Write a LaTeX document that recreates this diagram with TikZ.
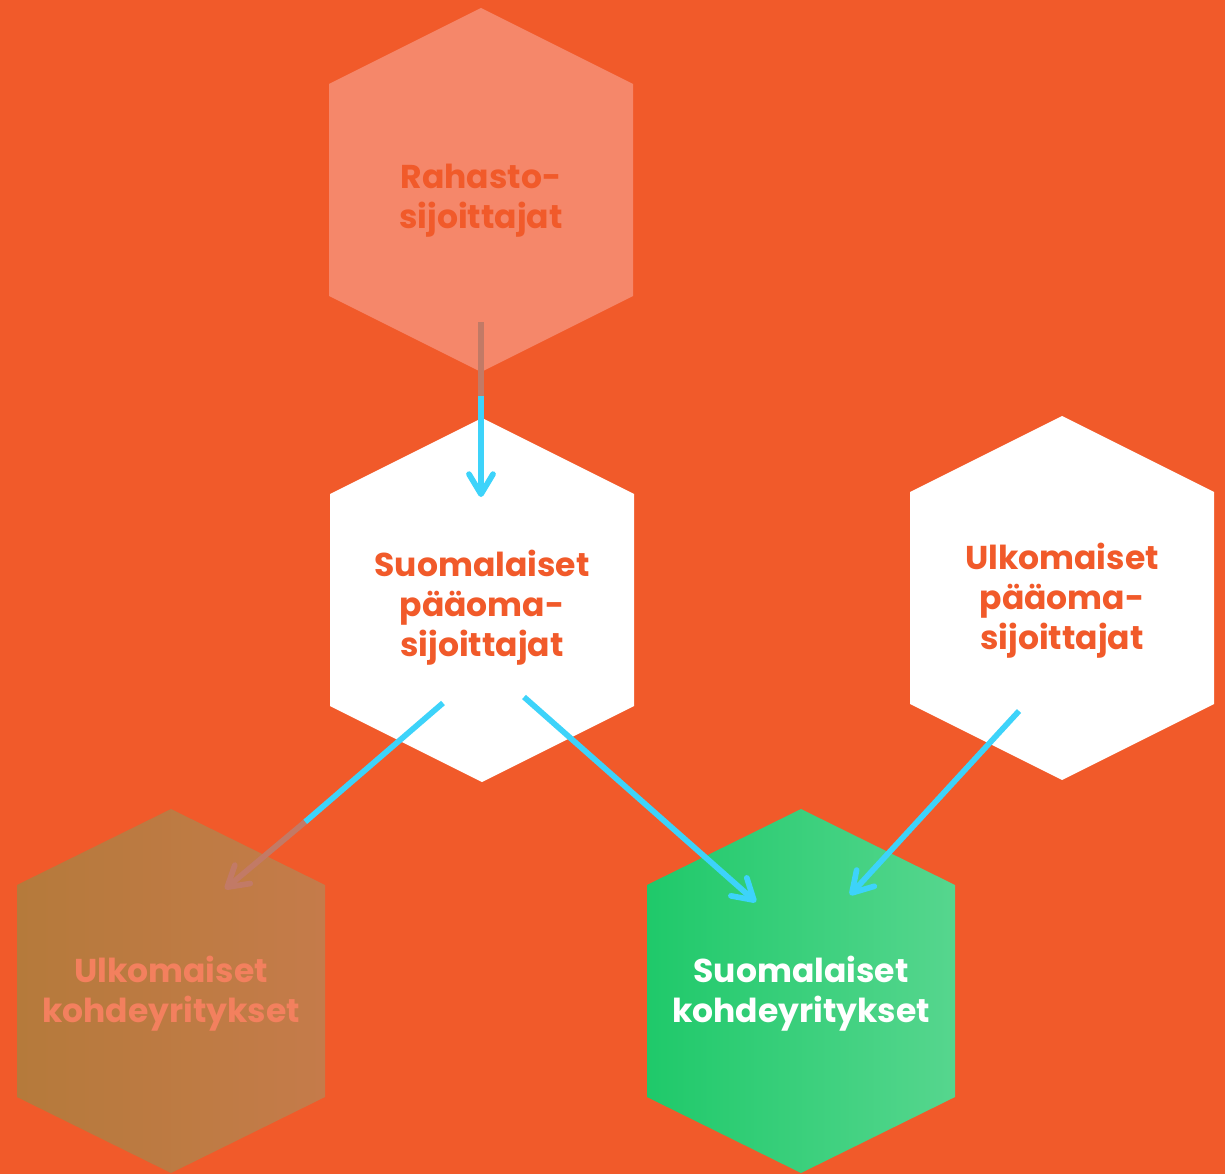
\documentclass[tikz,border=0pt]{standalone}
\usepackage{fontspec}
\setmainfont{Poppins}
\usetikzlibrary{arrows.meta,calc,positioning}

\definecolor{tausta}{HTML}{F15A2A}
\definecolor{vaalea}{HTML}{F5876A}
\definecolor{ruskeaA}{HTML}{B57A3B}
\definecolor{ruskeaB}{HTML}{C57B4A}
\definecolor{vihreaA}{HTML}{1FC96A}
\definecolor{vihreaB}{HTML}{56D68E}
\definecolor{syaani}{HTML}{3DD3FA}
\definecolor{haalea}{HTML}{C27A66}
\definecolor{haaleateksti}{HTML}{F3805E}

% hexagon with pointy top around a named centre, optional half width
\newcommand{\hexagonat}[3][152]{%
  \path[#2] ($(#3)+(0,-182)$) -- ++(#1,76) -- ++(0,212) -- ++(-#1,76)
    -- ++(-#1,-76) -- ++(0,-212) -- cycle;}

\begin{document}
\begin{tikzpicture}[x=1pt,y=-1pt,
    teksti/.style={align=center,font=\bfseries\fontsize{33}{40}\selectfont,inner sep=0pt},
    virta/.style={draw=syaani,line width=5.7pt,-{Straight Barb[length=20pt,width=24pt,round]}},
    haalea viiva/.style={draw=haalea,line width=5.7pt},
    haalea virta/.style={haalea viiva,-{Straight Barb[length=20pt,width=24pt,round]}}]
  \fill[tausta] (0,0) rectangle (1225,1174);
  \useasboundingbox (0,0) rectangle (1225,1174);

  \coordinate (rs) at (481,190);
  \coordinate (sp) at (482,600);
  \coordinate (up) at (1062,598);
  \coordinate (uk) at (171,991);
  \coordinate (sk) at (801,991);

  \hexagonat{fill=vaalea}{rs}
  \hexagonat{fill=white}{sp}
  \hexagonat{fill=white}{up}
  \hexagonat[154]{left color=ruskeaA,right color=ruskeaB}{uk}
  \hexagonat[154]{left color=vihreaA,right color=vihreaB}{sk}

  \node[teksti,text=tausta] (rs_t) at (481,201) {Rahasto-\\sijoittajat};
  \node[teksti,text=tausta] (sp_t) at (482,608) {Suomalaiset\\pääoma-\\sijoittajat};
  \node[teksti,text=tausta] (up_t) at (1062,601) {Ulkomaiset\\pääoma-\\sijoittajat};
  \node[teksti,text=haaleateksti] (uk_t) at (171,994) {Ulkomaiset\\kohdeyritykset};
  \node[teksti,text=white] (sk_t) at (801,994) {Suomalaiset\\kohdeyritykset};

  % arrow ends
  \coordinate (rs_out) at (481,322);
  \coordinate (rs_fade) at (481,396);
  \coordinate (sp_in) at (481,497);
  \coordinate (sp_out1) at (443,703);
  \coordinate (sp_fade) at (305,822);
  \coordinate (uk_in) at (225,889);
  \coordinate (sp_out2) at (524,697);
  \coordinate (sk_in1) at (756,902);
  \coordinate (up_out) at (1019,711);
  \coordinate (sk_in2) at (850,895);

  \draw[haalea viiva] (rs_out) -- (rs_fade);
  \draw[virta] (rs_fade) -- (sp_in);
  \draw[syaani,line width=5.7pt] (sp_out1) -- (sp_fade);
  \draw[haalea virta] (sp_fade) -- (uk_in);
  \draw[virta] (sp_out2) -- (sk_in1);
  \draw[virta] (up_out) -- (sk_in2);
\end{tikzpicture}
\end{document}
